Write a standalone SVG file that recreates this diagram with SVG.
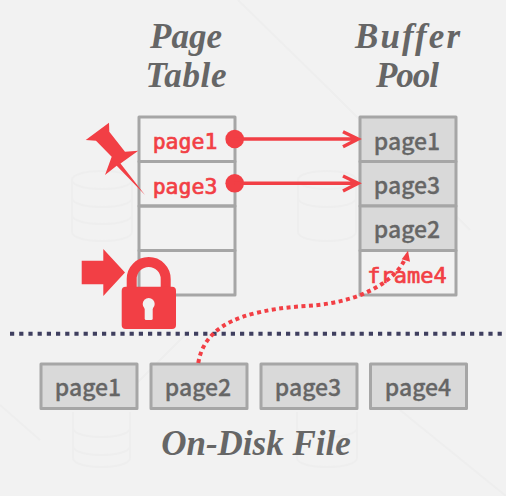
<svg xmlns="http://www.w3.org/2000/svg" width="506" height="496" viewBox="0 0 506 496">
<style>
.cell{fill:none;stroke:#a6a6a6;stroke-width:3;stroke-linejoin:round}
.full{fill:#d9d9d9;stroke:#a6a6a6;stroke-width:3;stroke-linejoin:round}
.t{font-family:"Noto Sans CJK JP","Noto Sans",sans-serif;font-size:23px;font-weight:500;fill:#666;stroke:#666;stroke-width:.3;text-anchor:middle}
.m{font-family:"DejaVu Sans Mono","Liberation Mono",monospace;font-size:21.5px;font-weight:400;fill:#f23f45;stroke:#f23f45;stroke-width:.7;text-anchor:middle}
.h{font-family:"Liberation Serif",serif;font-size:35px;font-weight:700;font-style:italic;fill:#666;text-anchor:middle}
.r{fill:#f23f45}
.wm{fill:none;stroke:#eeeeee;stroke-width:2}
.ln{fill:none;stroke:#f23f45;stroke-width:3.5}
</style>
<rect width="506" height="496" fill="#f2f2f2"/>
<g id="background">
<path class="wm" d="M72 180C72 168 132 168 132 180V232C132 244 72 244 72 232ZM72 180C72 192 132 192 132 180M72 198C72 210 132 210 132 198M72 215C72 227 132 227 132 215"/>
<path class="wm" d="M298 180C298 168 356 168 356 180V232C356 244 298 244 298 232ZM298 180C298 192 356 192 356 180M298 198C298 210 356 210 356 198"/>
<path class="wm" d="M73 412V458C73 470 130 470 130 458V412M73 428C73 440 130 440 130 428M73 446C73 458 130 458 130 446"/>
<path class="wm" d="M297 412V458C297 470 357 470 357 458V412M297 428C297 440 357 440 357 428"/>
<path class="wm" d="M238 0L330 90L470 230M0 405L40 440M400 410L506 496M190 330L120 400"/>
</g>
<g id="title-page-table"><text class="h" x="186" y="48" textLength="72">Page</text><text class="h" x="186" y="87" textLength="81">Table</text></g>
<g id="title-buffer-pool"><text class="h" x="407.5" y="48" textLength="105">Buffer</text><text class="h" x="407.5" y="87" textLength="63">Pool</text></g>
<g id="page-table">
<rect class="cell" x="139" y="117" width="96" height="44.5"/>
<rect class="cell" x="139" y="161.5" width="96" height="44.5"/>
<rect class="cell" x="139" y="206" width="96" height="44.5"/>
<rect class="cell" x="139" y="250.5" width="96" height="44.5"/>
<text class="m" x="185" y="149">page1</text>
<text class="m" x="185" y="194">page3</text>
</g>
<g id="buffer-pool">
<rect class="full" x="360" y="117" width="96" height="44.5"/>
<rect class="full" x="360" y="161.5" width="96" height="44.5"/>
<rect class="full" x="360" y="206" width="96" height="44.5"/>
<rect class="cell" x="360" y="250.5" width="96" height="44.5"/>
<text class="t" x="407" y="150">page1</text>
<text class="t" x="407" y="194">page3</text>
<text class="t" x="407" y="238">page2</text>
<text class="m" x="407" y="283" style="font-size:22px">frame4</text>
</g>
<g id="disk-line"><line x1="10" y1="333.7" x2="502" y2="333.7" stroke="#3f3f5f" stroke-width="4" stroke-dasharray="4.2 5"/></g>
<g id="disk-page1"><rect class="full" x="41" y="364" width="96" height="44.5"/><text class="t" x="88" y="396">page1</text></g>
<g id="disk-page2"><rect class="full" x="151" y="364" width="96" height="44.5"/><text class="t" x="198" y="396">page2</text></g>
<g id="disk-page3"><rect class="full" x="261" y="364" width="96" height="44.5"/><text class="t" x="308" y="396">page3</text></g>
<g id="disk-page4"><rect class="full" x="370.5" y="364" width="96" height="44.5"/><text class="t" x="418" y="396">page4</text></g>
<g id="title-disk"><text class="h" x="256" y="455">On-Disk File</text></g>
<g id="pin"><polygon class="r" points="85.7,140 109,122.7 109.3,131.7 125,151.7 138.3,150.7 120.5,163.5 145,195 116.7,165.7 105,175 111.7,156.7 96,140.7"/></g>
<g id="arrow-marker"><polygon class="r" points="81.7,260.7 103.3,260.7 103.3,249 125,272.5 103.3,296 103.3,284.3 81.7,284.3"/></g>
<g id="lock">
<path d="M131.7 288V279A17 17 0 0 1 165.7 279V288" fill="none" stroke="#f23f45" stroke-width="10"/>
<rect class="r" x="121.7" y="286.7" width="54.3" height="42.3" rx="4"/>
<circle cx="148.7" cy="304" r="6" fill="#f2f2f2"/>
<rect x="144.7" y="304" width="8" height="16" rx="1.5" fill="#f2f2f2"/>
</g>
<g id="connectors">
<circle class="r" cx="234.7" cy="139" r="9.3"/>
<path class="ln" d="M234.7 139H357M343 131.7L358 139L343 146.7"/>
<circle class="r" cx="234.7" cy="183.3" r="9.3"/>
<path class="ln" d="M234.7 183.3H357M343 176L358 183.3L343 191"/>
<path d="M198.3 363C202 340 218 322 256 313C275 308.5 290 307 306.7 306C335 304 365 298 390 278C396 273 401 267 404 261" fill="none" stroke="#f23f45" stroke-width="4" stroke-dasharray="4 3.5"/>
<polygon class="r" points="408,250.7 401.7,259.3 410,261.7"/>
</g>
</svg>
